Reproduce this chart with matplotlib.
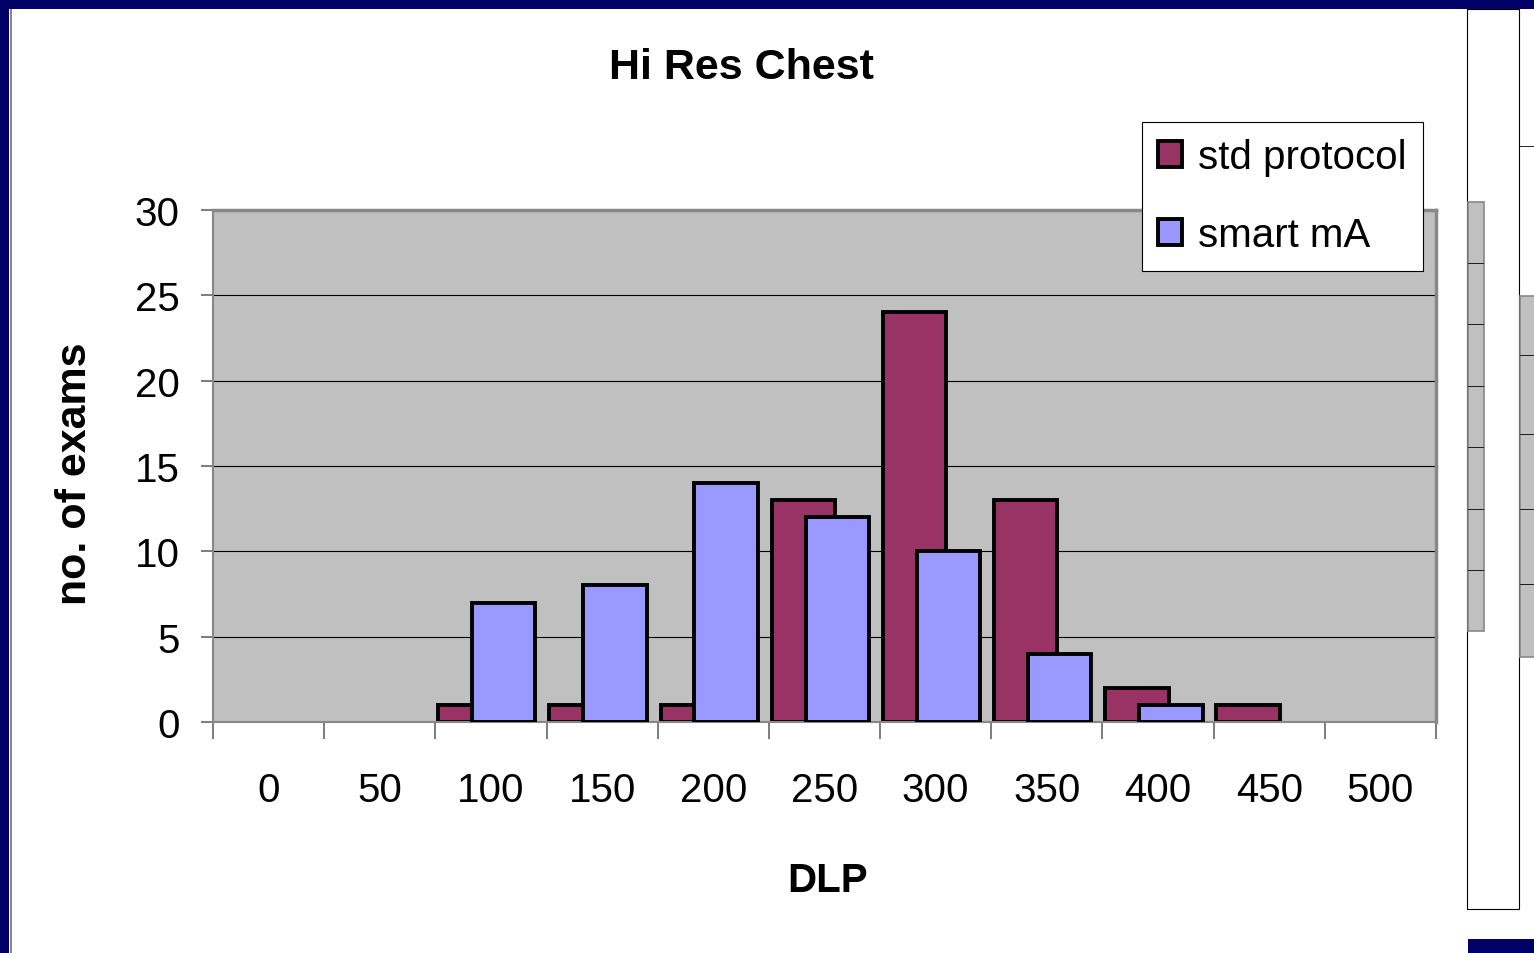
import matplotlib
matplotlib.use("Agg")
import matplotlib.pyplot as plt
import matplotlib.patches as mpatches
from matplotlib.lines import Line2D
import numpy as np

plt.rcParams['font.family'] = ['Liberation Sans', 'DejaVu Sans']

categories = ["0", "50", "100", "150", "200", "250", "300", "350", "400", "450", "500"]
std_protocol = [0, 0, 1, 1, 1, 13, 24, 13, 2, 1, 0]
smart_mA = [0, 0, 7, 8, 14, 12, 10, 4, 1, 0, 0]
yticks = [0, 5, 10, 15, 20, 25, 30]

W, H = 1534, 954
fig = plt.figure(figsize=(W / 100, H / 100), dpi=100)
fig.patch.set_facecolor("white")

def px(x0, y0, x1, y1, **kw):
    r = mpatches.Rectangle((x0 / W, 1 - y1 / H), (x1 - x0) / W, (y1 - y0) / H,
                           transform=fig.transFigure, **kw)
    fig.patches.append(r)
    return r

# navy frame
px(0, 0, W, 10, facecolor="#000066", edgecolor="none")
px(0, 0, 9, H, facecolor="#000066", edgecolor="none")
px(1468, 940, W, H, facecolor="#000066", edgecolor="none")
px(10, 10, 12, H, facecolor="#888888", edgecolor="none")
# partial neighbouring panel on the right
px(1467, 10, 1519, 910, facecolor="white", edgecolor="black", linewidth=0.8)
px(1468, 203, 1484, 632, facecolor="#C0C0C0", edgecolor="#888888", linewidth=1.2)
for yy in [264, 325, 387, 448, 510, 571]:
    fig.lines.append(Line2D([1468 / W, 1483 / W], [1 - yy / H] * 2, transform=fig.transFigure, color="black", lw=0.6))
px(1520, 297, W + 2, 658, facecolor="#C0C0C0", edgecolor="#888888", linewidth=1.2)
for yy in [356, 435, 510, 585]:
    fig.lines.append(Line2D([1520 / W, 1534 / W], [1 - yy / H] * 2, transform=fig.transFigure, color="black", lw=0.6))
fig.lines.append(Line2D([1519 / W, 1534 / W], [1 - 147 / H] * 2, transform=fig.transFigure, color="black", lw=0.6))

ax = fig.add_axes([213 / W, 1 - 723 / H, (1436 - 213) / W, (723 - 211) / H])
ax.set_facecolor("#C0C0C0")
x = np.arange(len(categories))
bw = 0.57
ax.set_axisbelow(True)
ax.yaxis.grid(True, color="black", linewidth=0.8)

std_arr = np.array(std_protocol, dtype=float)
smart_arr = np.array(smart_mA, dtype=float)
ms = std_arr > 0
mm = smart_arr > 0
ax.bar(x[ms] - 0.19, std_arr[ms], width=bw, color="#993366", edgecolor="black", linewidth=2.8, zorder=2)
ax.bar(x[mm] + 0.115, smart_arr[mm], width=bw, color="#9999FF", edgecolor="black", linewidth=2.8, zorder=3)

ax.set_xlim(-0.5, len(categories) - 0.5)
ax.set_ylim(0, 30)
ax.set_yticks(yticks)
ax.set_yticklabels([str(t) for t in yticks], fontsize=29)
ax.set_xticks(x)
ax.set_xticklabels(categories, fontsize=29)
ax.set_xticks(np.arange(-0.5, len(categories)), minor=True)
ax.tick_params(axis="x", which="major", length=0, pad=35)
ax.tick_params(axis="x", which="minor", length=12, color="#666666", width=1.2)
ax.tick_params(axis="y", which="major", length=9, color="#666666", width=1.2, pad=15)
for s in ["top", "right"]:
    ax.spines[s].set_color("#888888")
    ax.spines[s].set_linewidth(2.5)
for s in ["left", "bottom"]:
    ax.spines[s].set_color("#888888")
    ax.spines[s].set_linewidth(1.5)

fig.text(741 / W, 1 - 68 / H, "Hi Res Chest", ha="center", va="center", fontsize=31, fontweight="bold")
fig.text(75 / W, 1 - 474 / H, "no. of exams", ha="center", va="center", rotation=90, fontsize=31, fontweight="bold")
fig.text(828 / W, 1 - 881 / H, "DLP", ha="center", va="center", fontsize=29, fontweight="bold")

handles = [mpatches.Patch(facecolor="#993366", edgecolor="black", linewidth=2.8),
           mpatches.Patch(facecolor="#9999FF", edgecolor="black", linewidth=2.8)]
leg = fig.legend(handles, ["std protocol", "smart mA"], loc="upper left",
                 bbox_to_anchor=(1142 / W, 1 - 123 / H), fontsize=29, frameon=True,
                 fancybox=False, edgecolor="black", framealpha=1, handlelength=0.6, handleheight=0.6,
                 handletextpad=0.4, labelspacing=1.0, borderpad=0.4, borderaxespad=0)
leg.get_frame().set_linewidth(0.8)
leg.set_zorder(10)

fig.savefig("out.png", dpi=100, facecolor="white")
